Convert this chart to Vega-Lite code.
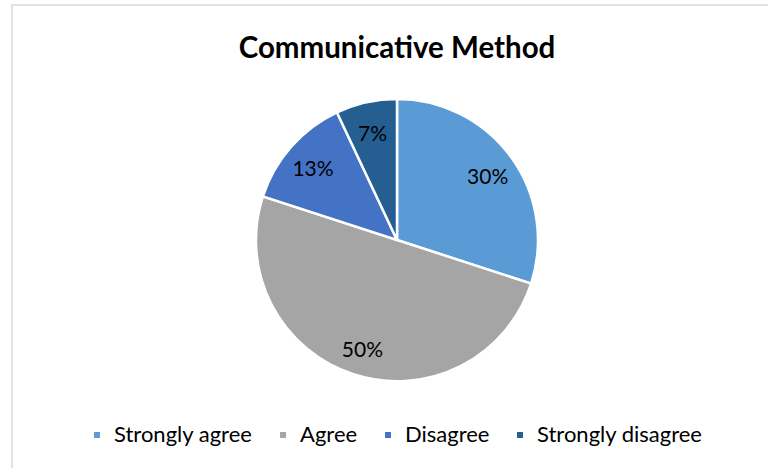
{
  "$schema": "https://vega.github.io/schema/vega-lite/v6.json",
  "autosize": "none",
  "width": 770,
  "height": 470,
  "padding": {"left": 12, "top": 5, "right": 0, "bottom": 0},
  "background": "white",
  "view": {"stroke": "#d9d9d9", "strokeWidth": 1.5, "fill": "white"},
  "title": {"text": "Communicative Method", "font": "Lato", "fontSize": 29.5, "fontWeight": "bold", "color": "#000000", "anchor": "middle", "dy": 63},
  "data": {"values": [
    {"k": 1, "category": "Strongly agree", "value": 30, "label": "30%"},
    {"k": 2, "category": "Agree", "value": 50, "label": "50%"},
    {"k": 3, "category": "Disagree", "value": 13, "label": "13%"},
    {"k": 4, "category": "Strongly disagree", "value": 7, "label": "7%"}
  ]},
  "encoding": {
    "theta": {"field": "value", "type": "quantitative", "stack": true},
    "order": {"field": "k", "type": "quantitative"}
  },
  "layer": [
    {
      "mark": {"type": "arc", "radius": 141, "stroke": "white", "strokeWidth": 2.5},
      "encoding": {
        "color": {"field": "category", "type": "nominal",
          "scale": {"domain": ["Strongly agree", "Agree", "Disagree", "Strongly disagree"], "range": ["#5b9bd5", "#a5a5a5", "#4472c4", "#255e91"]},
          "legend": {"orient": "none", "legendX": 74, "legendY": 419, "direction": "horizontal", "title": null, "symbolType": "square", "symbolSize": 55, "labelFont": "Lato", "labelFontSize": 22, "labelColor": "#000000", "labelLimit": 400, "columnPadding": 19, "labelOffset": 6}
        }
      }
    },
    {
      "mark": {"type": "text", "radius": 112, "dy": 4, "font": "Lato", "fontSize": 21, "color": "#000000"},
      "encoding": {"text": {"field": "label"}}
    }
  ]
}
